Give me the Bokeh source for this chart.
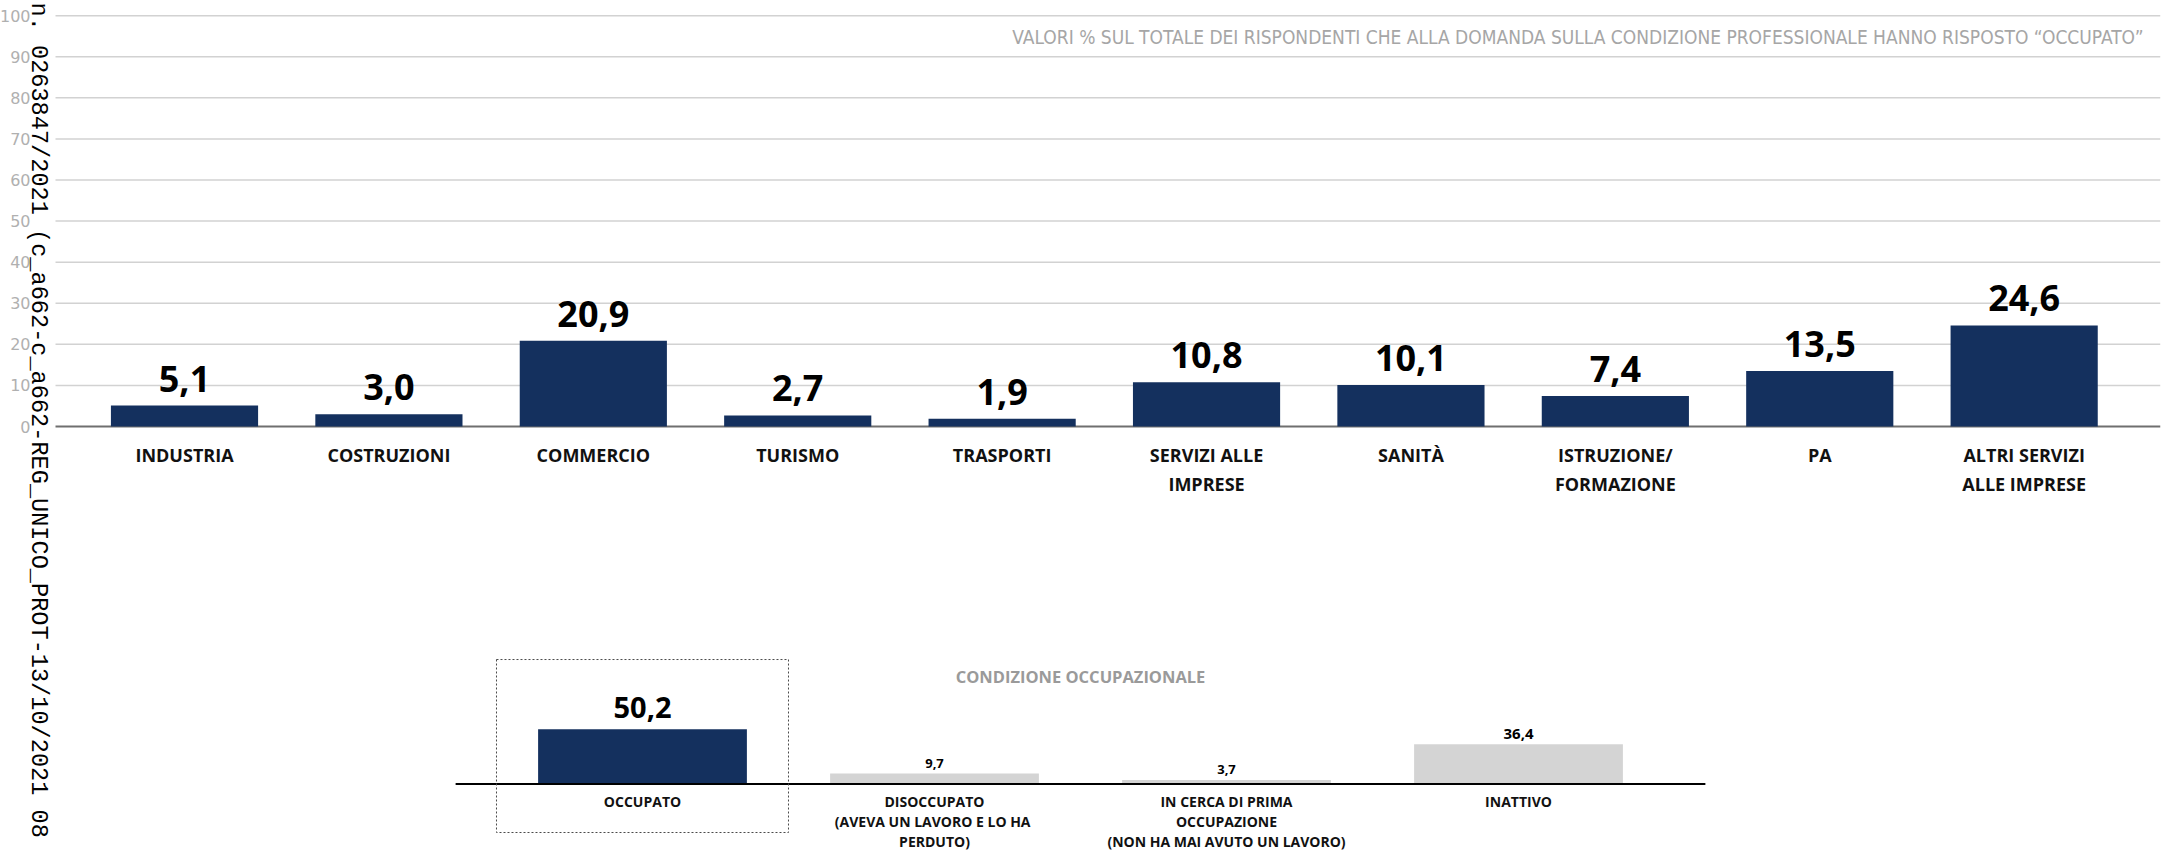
import math
from bokeh.plotting import figure
from bokeh.models import Range1d, FixedTicker, Label, ColumnDataSource
from bokeh.core.properties import value
from bokeh.embed import file_html
from bokeh.resources import INLINE

# ---------------- data ----------------
sectors = ["INDUSTRIA", "COSTRUZIONI", "COMMERCIO", "TURISMO", "TRASPORTI",
           "SERVIZI ALLE\nIMPRESE", "SANITÀ", "ISTRUZIONE/\nFORMAZIONE", "PA",
           "ALTRI SERVIZI\nALLE IMPRESE"]
sector_values = [5.1, 3.0, 20.9, 2.7, 1.9, 10.8, 10.1, 7.4, 13.5, 24.6]
y_ticks = [0, 10, 20, 30, 40, 50, 60, 70, 80, 90, 100]

status_labels = ["OCCUPATO",
                 "DISOCCUPATO\n(AVEVA UN LAVORO  E LO HA\nPERDUTO)",
                 "IN CERCA DI PRIMA\nOCCUPAZIONE\n(NON HA MAI AVUTO UN LAVORO)",
                 "INATTIVO"]
status_values = [50.2, 9.7, 3.7, 36.4]
highlight = "OCCUPATO"

subtitle = ("VALORI % SUL TOTALE DEI RISPONDENTI CHE ALLA DOMANDA SULLA CONDIZIONE "
            "PROFESSIONALE HANNO RISPOSTO \u201cOCCUPATO\u201d")
panel_title = "CONDIZIONE OCCUPAZIONALE"
stamp = "n. 0263847/2021 (c_a662-c_a662-REG_UNICO_PROT-13/10/2021 08"

# ---------------- style ----------------
NAVY = "#14305e"
LIGHT = "#d4d4d4"
FONT = "Open Sans"
NARROW = "'Liberation Sans Narrow', 'DejaVu Sans Condensed', 'Roboto Condensed', sans-serif"
MONO = "'Courier New', Courier, 'Nimbus Mono PS', FreeMono, 'Liberation Mono', monospace"
status_label_sizes = ["29px", "13px", "13px", "15px"]

X0, X1 = -0.9002, 9.667      # top chart horizontal range
AXIS_AT = -0.6311            # where the value axis sits
BX0, BX1 = -2.1986, 5.1986   # bottom chart horizontal range


def fmt(v):
    return f"{v:.1f}".replace(".", ",")


p = figure(width=2168, height=853, output_backend="svg", toolbar_location=None,
           x_range=Range1d(X0, X1), y_range=Range1d(-103.94, 103.70),
           x_axis_location=None, min_border_left=0, min_border_right=8,
           min_border_top=0, min_border_bottom=0)
p.outline_line_color = None
p.xgrid.visible = False
p.ygrid.visible = False
p.background_fill_color = "white"
p.border_fill_color = "white"

p.extra_x_ranges = {"bx": Range1d(BX0, BX1)}
p.extra_y_ranges = {"by": Range1d(-63.76, 718.8)}

# value axis, drawn inside the frame
p.yaxis.fixed_location = AXIS_AT
p.yaxis.ticker = FixedTicker(ticks=y_ticks)
p.yaxis.axis_line_color = None
p.yaxis.major_tick_line_color = None
p.yaxis.minor_tick_line_color = None
p.yaxis.major_label_text_color = "#b0b0b0"
p.yaxis.major_label_text_font = "DejaVu Sans"
p.yaxis.major_label_text_font_size = "16px"
p.yaxis.major_label_standoff = 19

# grid lines starting at the axis
grid_y = [t for t in y_ticks if t != 0]
p.segment(x0=[AXIS_AT] * len(grid_y), y0=grid_y, x1=[X1] * len(grid_y), y1=grid_y,
          line_color="#d2d2d2", line_width=1.5)
p.segment(x0=[AXIS_AT], y0=[0], x1=[X1], y1=[0], line_color="#6f6f6f", line_width=2)

# ---------------- top chart ----------------
xs = list(range(len(sectors)))
src = ColumnDataSource(dict(x=xs, top=sector_values,
                            lab=[fmt(v) for v in sector_values]))
p.vbar(x="x", top="top", bottom=0, width=0.72, source=src,
       fill_color=NAVY, line_color=None)
p.text(x="x", y="top", text="lab", source=src, text_align="center",
       text_baseline="alphabetic", y_offset=-27, text_font=value(FONT),
       text_font_style="bold", text_font_size="36px", text_color="#000000")

for k in range(3):
    lx, lt = [], []
    for i, s in enumerate(sectors):
        parts = s.split("\n")
        if k < len(parts):
            lx.append(i)
            lt.append(parts[k])
    if lx:
        p.text(x=lx, y=[0] * len(lx), text=lt, text_align="center",
               text_baseline="alphabetic", y_offset=28 + 29 * k,
               text_font=value(FONT), text_font_style="bold",
               text_font_size="18px", text_color="#111111")

p.add_layout(Label(x=9.584, y=94.7, text=subtitle, text_align="right",
                   text_baseline="middle", text_font=NARROW,
                   text_font_size="19px", text_color="#a6a6a6"))

# ---------------- bottom chart ----------------
bxs = list(range(len(status_labels)))
colors = [NAVY if s == highlight else LIGHT for s in status_labels]
bsrc = ColumnDataSource(dict(x=bxs, top=status_values, c=colors))
p.vbar(x="x", top="top", bottom=0, width=0.715, source=bsrc, fill_color="c",
       line_color=None, x_range_name="bx", y_range_name="by")

hi = status_labels.index(highlight)
small = [i for i in bxs if i != hi]
p.text(x=[hi], y=[status_values[hi]], text=[fmt(status_values[hi])],
       text_align="center", text_baseline="alphabetic", y_offset=-22,
       text_font=value(FONT), text_font_style="bold",
       text_font_size=status_label_sizes[hi],
       text_color="#000000", x_range_name="bx", y_range_name="by")
ssrc = ColumnDataSource(dict(x=small, y=[status_values[i] for i in small],
                             t=[fmt(status_values[i]) for i in small],
                             fs=[status_label_sizes[i] for i in small]))
p.text(x="x", y="y", text="t", source=ssrc, text_font_size="fs",
       text_align="center", text_baseline="alphabetic", y_offset=-10,
       text_font=value(FONT), text_font_style="bold",
       text_color="#000000", x_range_name="bx", y_range_name="by")

pad = 0.64
p.segment(x0=[-pad], y0=[0], x1=[len(status_labels) - 1 + pad], y1=[0],
          line_color="#000000", line_width=2, x_range_name="bx", y_range_name="by")

for k in range(3):
    lx, lt = [], []
    for i, s in enumerate(status_labels):
        parts = s.split("\n")
        if k < len(parts):
            lx.append(i)
            lt.append(parts[k])
    if lx:
        p.text(x=lx, y=[0] * len(lx), text=lt, text_align="center",
               text_baseline="alphabetic", y_offset=17 + 20.4 * k,
               text_font=value(FONT), text_font_style="bold",
               text_font_size="14px", text_color="#111111",
               x_range_name="bx", y_range_name="by")

p.quad(left=[hi - 0.5], right=[hi + 0.5], top=[114.2], bottom=[-44.5],
       fill_color=None, line_color="#4a4a4a", line_width=1, line_dash="2 2",
       x_range_name="bx", y_range_name="by")

p.add_layout(Label(x=(len(status_labels) - 1) / 2, y=98.6, text=panel_title,
                   text_align="center", text_baseline="middle",
                   text_font=FONT, text_font_style="bold", text_font_size="16.5px",
                   text_color="#9a9a9a", x_range_name="bx", y_range_name="by"))

# protocol stamp (vertical)
p.add_layout(Label(x=38, y=851, x_units="screen", y_units="screen", text=stamp,
                   angle=-math.pi / 2, text_align="left", text_baseline="middle",
                   text_font=MONO, text_font_size="23.6px",
                   text_color="#000000"))

open("out.html", "w").write(file_html(p, INLINE))
